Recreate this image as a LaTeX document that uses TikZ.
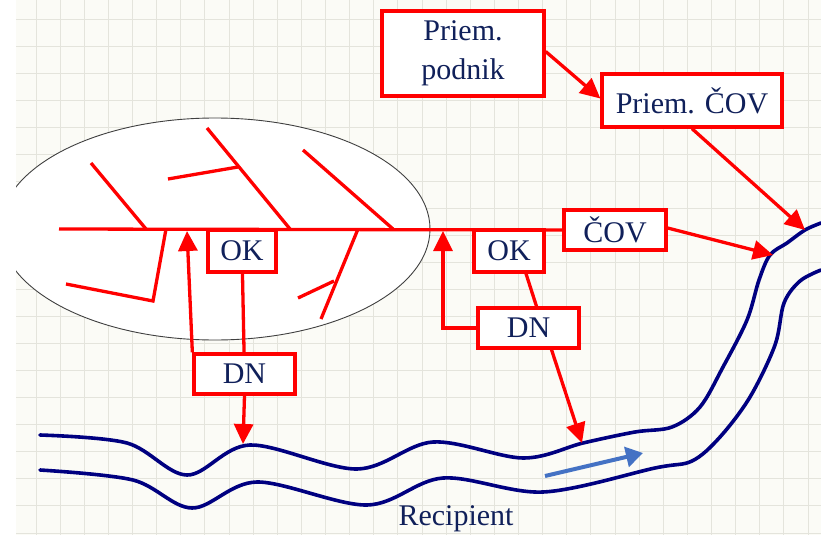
\documentclass[tikz,border=0pt]{standalone}
\usepackage{fontspec}
\setmainfont{Liberation Serif}
\usetikzlibrary{arrows.meta}
\definecolor{bg}{HTML}{FBFBF6}
\definecolor{gridc}{HTML}{E4E4DC}
\definecolor{boxred}{HTML}{FF0000}
\definecolor{ink}{HTML}{10205A}
\definecolor{river}{HTML}{000080}
\definecolor{flow}{HTML}{4472C4}
\begin{document}
\begin{tikzpicture}[x=1pt,y=-1pt,
  labelbox/.style={draw=boxred, line width=3.3pt, fill=white, text=ink,
    font=\fontsize{30}{39}\selectfont, inner sep=0pt, align=center},
  bone/.style={draw=boxred, line width=3.3pt},
  redarrow/.style={draw=boxred, line width=3.3pt, -{Triangle[length=20pt,width=19pt]}},
  bank/.style={draw=river, line width=3.6pt, line cap=round},
  ]
\useasboundingbox (0,0) rectangle (821,535);
% paper with a squared grid
\fill[white] (0,0) rectangle (821,535);
\fill[bg] (16,0) rectangle (821,535);
\foreach \i in {0,...,32}
  \draw[gridc, line width=0.9pt] ({36+24.125*\i},0) -- ++(0,535);
\foreach \j in {0,...,19}
  \draw[gridc, line width=0.9pt] (16,{19+27.05*\j}) -- (821,{19+27.05*\j});

% the town area
\begin{scope}
  \clip (16,0) rectangle (821,535);
  \draw[fill=white, draw=black!75, line width=0.9pt] (215,229) ellipse [x radius=215, y radius=111];
\end{scope}

% sewer network: main collector and branches
\coordinate (spineStart) at (59,229);
\draw[bone] (91,163) -- (146,229);
\draw[bone] (207,128) -- (290,229);
\draw[bone] (168,179) -- (238,167);
\draw[bone] (303,150) -- (393,229);
\draw[bone] (66,284) -- (153,301) -- (166,229);
\draw[bone] (358,229) -- (321,319);
\draw[bone] (298,298) -- (334,281);

% boxes
\node[labelbox, minimum width=68pt, minimum height=42pt] (okL) at (242,251) {OK};
\node[labelbox, minimum width=101pt, minimum height=40pt] (dnL) at (244.5,374) {DN};
\node[labelbox, minimum width=70pt, minimum height=42pt] (okR) at (509,251) {OK};
\node[labelbox, minimum width=101pt, minimum height=40pt] (dnR) at (528.5,328) {DN};
\node[labelbox, minimum width=102pt, minimum height=40pt] (cov) at (615,230) {ČOV};
\node[labelbox, minimum width=162pt, minimum height=85pt] (podnik) at (463,53.5) {Priem.\\podnik};
\node[labelbox, minimum width=180pt, minimum height=53pt] (pcov) at (692,100.5) {Priem. ČOV};

\draw[bone] (spineStart) -- (cov.west);

% river (recipient)
\draw[bank] plot[smooth, tension=0.55] coordinates {
  (40,435) (127,443) (187,475) (250,445) (357,469) (433,442) (523,458)
  (583,443) (635,432) (672,427) (700,407) (723,367) (747,320)
  (759,280) (770,255) (787,243) (805,230) (821,223)};
\draw[bank] plot[smooth, tension=0.55] coordinates {
  (40,470) (133,480) (192,508) (257,482) (367,505) (443,478) (543,492)
  (655,468) (692,461) (720,437) (750,397) (775,345) (784,303)
  (800,281) (821,270)};
\draw[flow, line width=4pt, -{Triangle[length=17pt,width=20pt]}] (545,476) -- (643,453);
\node[text=ink, font=\fontsize{30}{36}\selectfont, anchor=base] (recip) at (456,525) {Recipient};

% points where the flows meet the collector and the river
\coordinate (inL) at (187,231);
\coordinate (inR) at (443,231);
\coordinate (rivL) at (243,444);
\coordinate (rivR) at (582,443);
\coordinate (rivCov) at (773,255);
\coordinate (rivPcov) at (805,230);

% connectors
\draw[bone] (okL) -- (dnL);
\draw[redarrow] (dnL.north west) -- (inL);
\draw[redarrow] (dnL.south) -- (rivL);
\draw[bone] ([xshift=17pt]okR.south) -- ([xshift=8pt]dnR.north);
\draw[redarrow] (dnR.west) -| (inR);
\draw[redarrow] ([xshift=23pt]dnR.south) -- (rivR);
\draw[redarrow] ([yshift=2pt]cov.east) -- (rivCov);
\draw[redarrow] ([yshift=2pt]podnik.east) -- ([yshift=2pt]pcov.west);
\draw[redarrow] (pcov.south) -- (rivPcov);
\end{tikzpicture}
\end{document}
